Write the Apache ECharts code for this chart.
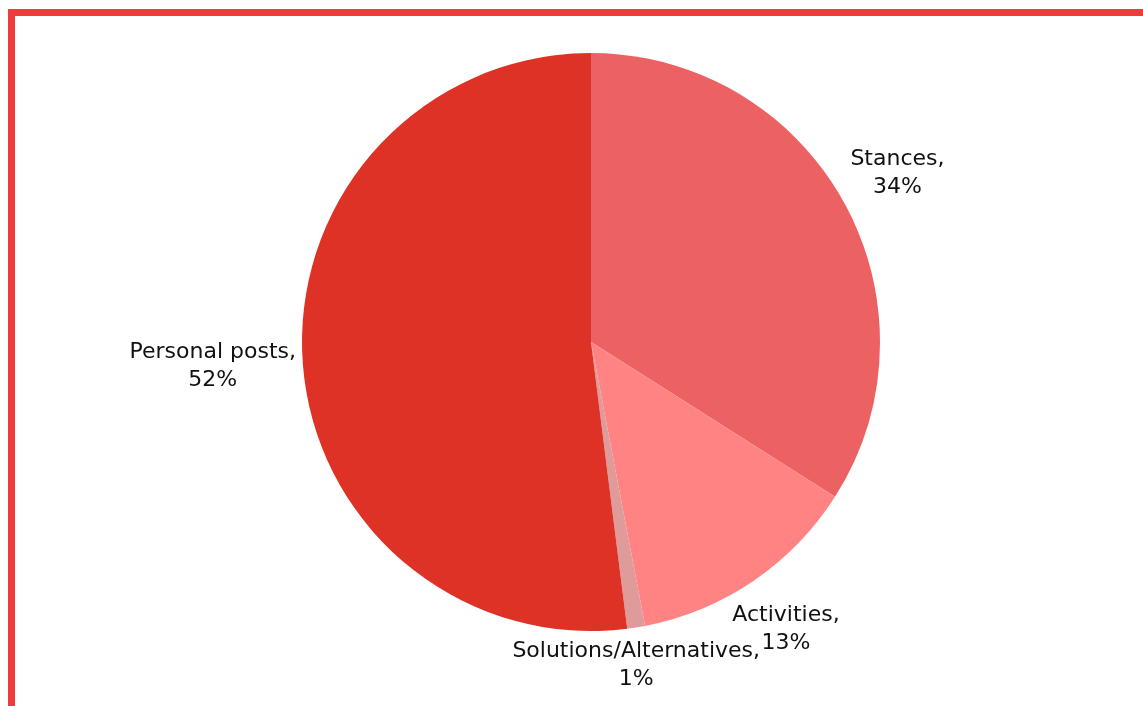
<!DOCTYPE html>
<html>
<head>
<meta charset="utf-8">
<title>Post types</title>
<script src="https://cdn.jsdelivr.net/npm/echarts@6/dist/echarts.min.js"></script>
<style>
  html, body { margin: 0; padding: 0; background: #ffffff; overflow: hidden; }
  #chart { position: absolute; left: 0; top: 0; width: 1143px; height: 706px; }
  #frame {
    position: absolute; left: 8px; top: 9px; right: -40px; bottom: -40px;
    border: 7px solid #f03a3c; pointer-events: none;
  }
</style>
</head>
<body>
<div id="chart"></div>
<div id="frame"></div>
<script>
// Share of posts by type (percent)
const categories = ['Stances', 'Activities', 'Solutions/Alternatives', 'Personal posts'];
const values = [34, 13, 1, 52];
const colors = ['#ec6262', '#ff8383', '#df9a9a', '#de3226'];

const CENTER = [591, 342];
const RADIUS = 289;
const LABEL_GAP = 6;

const total = values.reduce((a, b) => a + b, 0);
// mid-angle of each slice, measured clockwise from 12 o'clock
const midAngles = [];
let acc = 0;
values.forEach(v => {
  midAngles.push(((acc + v / 2) / total) * Math.PI * 2);
  acc += v;
});

// distance from the pie centre to the nearest point of a box centred at (bx, by)
function boxDistance(bx, by, w, h) {
  const nx = Math.max(bx - w / 2, Math.min(CENTER[0], bx + w / 2));
  const ny = Math.max(by - h / 2, Math.min(CENTER[1], by + h / 2));
  return Math.hypot(nx - CENTER[0], ny - CENTER[1]);
}

const chart = echarts.init(document.getElementById('chart'), null, { renderer: 'canvas' });

chart.setOption({
  animation: false,
  color: colors,
  series: [{
    type: 'pie',
    center: CENTER,
    radius: RADIUS,
    startAngle: 90,
    clockwise: true,
    data: categories.map((name, i) => ({ name, value: values[i] })),
    itemStyle: { borderWidth: 0 },
    label: {
      show: true,
      position: 'outside',
      formatter: p => p.name + ',\n' + p.value + '%',
      fontFamily: 'DejaVu Sans',
      fontSize: 22,
      lineHeight: 28,
      color: '#111111',
      align: 'center'
    },
    labelLine: { show: false, length: 0, length2: 0 },
    // slide each label box outward until it clears the rim; labels of slices
    // pointing almost straight up or down stay centred under their rim point
    labelLayout: params => {
      const a = midAngles[params.dataIndex];
      const dx = Math.sin(a), dy = -Math.cos(a);
      const steep = Math.abs(dx) < 0.3;
      const w = params.labelRect.width, h = params.labelRect.height;
      const target = RADIUS + LABEL_GAP;
      const pos = d => steep
        ? [CENTER[0] + dx * RADIUS, CENTER[1] + Math.sign(dy) * d]
        : [CENTER[0] + dx * d, CENTER[1] + dy * d];
      let lo = 0, hi = RADIUS + w + h;
      for (let k = 0; k < 40; k++) {
        const mid = (lo + hi) / 2;
        const p = pos(mid);
        if (boxDistance(p[0], p[1], w, h) < target) lo = mid;
        else hi = mid;
      }
      const p = pos(hi);
      return { x: p[0], y: p[1], align: 'center', verticalAlign: 'middle' };
    }
  }]
});
</script>
</body>
</html>
